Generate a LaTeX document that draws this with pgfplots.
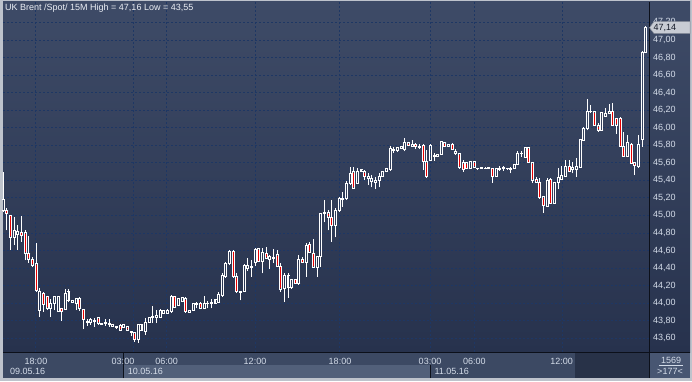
\documentclass[border=0pt]{standalone}
\usepackage{pgfplots}
\pgfplotsset{compat=1.18}
\usepackage{pgfplotstable}
\usepackage{fontspec}
\setmainfont{Liberation Sans}
\definecolor{bgtop}{RGB}{62,75,103}
\definecolor{bgbot}{RGB}{39,50,77}
\definecolor{gridc}{RGB}{30,55,100}
\definecolor{lbl}{RGB}{212,220,233}
\definecolor{panel}{RGB}{60,73,99}
\definecolor{panellight}{RGB}{82,96,122}
\definecolor{paneldark}{RGB}{40,50,72}
\definecolor{cornerbox}{RGB}{72,86,114}
\definecolor{framec}{RGB}{190,195,204}
\definecolor{sepc}{RGB}{12,16,26}
\definecolor{candred}{RGB}{230,0,0}
\definecolor{tagc}{RGB}{200,204,212}

\pgfplotstableread{
i o h l c
0 45.06 45.50 45.04 45.18
1 45.06 45.08 44.83 45.02
2 45.00 45.00 44.61 44.75
3 44.75 44.98 44.66 44.83
4 44.78 44.89 44.61 44.82
5 44.81 44.99 44.70 44.77
6 44.80 44.83 44.49 44.57
7 44.57 44.77 44.46 44.50
8 44.50 44.53 44.41 44.43
9 44.45 44.69 44.13 44.14
10 43.91 44.17 43.84 44.13
11 44.11 44.13 43.90 43.98
12 44.08 44.08 43.92 43.94
13 43.94 44.05 43.84 44.00
14 44.00 44.08 43.92 44.07
15 43.90 44.07 43.90 44.07
16 43.94 43.94 43.80 43.90
17 43.93 44.16 43.93 44.11
18 44.13 44.16 44.01 44.03
19 44.01 44.03 44.01 44.03
20 43.99 44.06 43.92 44.05
21 44.05 44.07 43.91 43.94
22 43.93 43.93 43.70 43.81
23 43.78 43.82 43.74 43.79
24 43.78 43.83 43.75 43.81
25 43.80 43.83 43.73 43.79
26 43.83 43.84 43.75 43.77
27 43.75 43.77 43.75 43.77
28 43.77 43.82 43.74 43.78
29 43.75 43.82 43.73 43.77
30 43.75 43.75 43.73 43.73
31 43.73 43.74 43.71 43.72
32 43.74 43.76 43.68 43.69
33 43.72 43.75 43.72 43.75
34 43.73 43.73 43.68 43.69
35 43.68 43.68 43.62 43.66
36 43.66 43.66 43.56 43.58
37 43.58 43.76 43.55 43.75
38 43.75 43.75 43.69 43.69
39 43.68 43.83 43.64 43.78
40 43.78 43.84 43.78 43.84
41 43.83 43.97 43.77 43.85
42 43.84 43.92 43.77 43.86
43 43.84 43.93 43.84 43.92
44 43.88 43.92 43.88 43.92
45 43.88 43.93 43.88 43.92
46 43.90 44.09 43.89 44.08
47 44.08 44.08 43.95 43.95
48 43.97 44.05 43.97 44.05
49 44.02 44.06 44.02 44.06
50 44.05 44.07 43.89 43.90
51 43.89 43.91 43.89 43.91
52 43.92 44.00 43.91 43.99
53 43.98 44.01 43.94 44.00
54 44.00 44.01 43.93 43.94
55 43.94 44.08 43.94 43.99
56 43.99 44.02 43.94 44.00
57 44.00 44.05 43.94 44.01
58 43.99 44.04 43.99 44.04
59 44.01 44.13 44.01 44.10
60 44.09 44.34 44.07 44.31
61 44.30 44.47 44.29 44.45
62 44.45 44.61 44.43 44.59
63 44.59 44.60 44.29 44.30
64 44.30 44.34 44.12 44.13
65 44.12 44.13 44.03 44.13
66 44.13 44.44 44.13 44.43
67 44.39 44.51 44.37 44.43
68 44.40 44.49 44.30 44.42
69 44.46 44.63 44.42 44.61
70 44.62 44.63 44.47 44.47
71 44.47 44.63 44.34 44.58
72 44.57 44.64 44.51 44.51
73 44.50 44.55 44.39 44.53
74 44.51 44.62 44.46 44.52
75 44.55 44.61 44.42 44.42
76 44.42 44.46 44.13 44.16
77 44.17 44.34 44.01 44.32
78 44.32 44.34 44.06 44.18
79 44.18 44.27 44.16 44.27
80 44.27 44.27 44.22 44.22
81 44.22 44.55 44.21 44.50
82 44.50 44.53 44.46 44.46
83 44.46 44.69 44.30 44.66
84 44.67 44.70 44.58 44.58
85 44.57 44.73 44.41 44.41
86 44.41 44.53 44.30 44.53
87 44.53 45.03 44.41 45.02
88 45.02 45.18 44.92 45.03
89 45.03 45.06 44.83 44.98
90 44.98 45.17 44.70 44.88
91 44.88 45.08 44.75 45.05
92 45.05 45.21 45.04 45.19
93 45.18 45.27 45.10 45.19
94 45.19 45.39 45.18 45.36
95 45.36 45.55 45.35 45.48
96 45.50 45.55 45.31 45.31
97 45.36 45.54 45.36 45.50
98 45.50 45.52 45.50 45.52
99 45.50 45.52 45.40 45.44
100 45.44 45.48 45.35 45.42
101 45.39 45.46 45.32 45.42
102 45.40 45.44 45.30 45.38
103 45.40 45.48 45.32 45.44
104 45.44 45.51 45.44 45.50
105 45.50 45.53 45.50 45.53
106 45.52 45.79 45.51 45.76
107 45.75 45.78 45.71 45.74
108 45.74 45.78 45.72 45.77
109 45.78 45.79 45.76 45.76
110 45.75 45.88 45.73 45.83
111 45.83 45.83 45.80 45.80
112 45.78 45.86 45.78 45.81
113 45.81 45.83 45.76 45.78
114 45.78 45.81 45.76 45.77
115 45.80 45.81 45.52 45.61
116 45.61 45.75 45.43 45.44
117 45.63 45.81 45.63 45.80
118 45.68 45.71 45.62 45.67
119 45.67 45.69 45.67 45.69
120 45.69 45.85 45.69 45.84
121 45.83 45.84 45.78 45.78
122 45.78 45.81 45.78 45.81
123 45.81 45.83 45.75 45.75
124 45.73 45.76 45.69 45.71
125 45.70 45.71 45.53 45.55
126 45.60 45.63 45.50 45.52
127 45.60 45.60 45.53 45.53
128 45.53 45.61 45.53 45.61
129 45.61 45.61 45.55 45.55
130 45.535 45.54 45.52 45.53
131 45.53 45.55 45.53 45.55
132 45.54 45.55 45.53 45.54
133 45.53 45.55 45.53 45.55
134 45.54 45.54 45.37 45.44
135 45.44 45.53 45.44 45.53
136 45.52 45.56 45.51 45.54
137 45.55 45.56 45.51 45.53
138 45.53 45.54 45.52 45.53
139 45.53 45.55 45.48 45.52
140 45.53 45.58 45.53 45.58
141 45.58 45.73 45.58 45.71
142 45.70 45.73 45.67 45.71
143 45.66 45.78 45.66 45.77
144 45.77 45.77 45.60 45.60
145 45.60 45.60 45.37 45.40
146 45.41 45.44 45.38 45.38
147 45.38 45.43 45.19 45.20
148 45.21 45.21 45.03 45.11
149 45.10 45.43 45.10 45.40
150 45.41 45.43 45.13 45.13
151 45.13 45.37 45.13 45.37
152 45.37 45.54 45.30 45.43
153 45.41 45.56 45.41 45.46
154 45.44 45.63 45.44 45.56
155 45.56 45.63 45.50 45.50
156 45.52 45.61 45.48 45.55
157 45.52 45.65 45.44 45.56
158 45.55 45.86 45.55 45.86
159 45.85 46.01 45.85 45.99
160 45.99 46.33 45.97 46.18
161 46.18 46.26 46.17 46.18
162 46.18 46.19 46.02 46.02
163 46.02 46.05 45.95 45.97
164 45.97 46.17 45.97 46.17
165 46.13 46.22 46.13 46.16
166 46.16 46.27 46.16 46.19
167 46.19 46.28 46.02 46.02
168 46.11 46.11 45.93 46.03
169 46.11 46.12 45.78 45.78
170 45.78 45.95 45.67 45.67
171 45.67 45.92 45.67 45.83
172 45.81 45.83 45.59 45.59
173 45.60 45.60 45.46 45.57
174 45.56 45.92 45.54 45.81
175 45.86 46.87 45.78 46.86
176 46.86 47.16 46.86 47.14
}\candles

\begin{document}
\begin{tikzpicture}[x=1pt,y=1pt]
\useasboundingbox (0,0) rectangle (692,381);
\fill[framec] (0,0) rectangle (692,381);
\shade[top color=bgtop, bottom color=bgbot] (3,29) rectangle (690,379);
% bottom panel
\fill[panel] (3,3) rectangle (649,29);
\fill[panellight] (123,3) rectangle (430.5,16);
\fill[paneldark] (575,3) rectangle (649,28.5);
\fill[cornerbox] (649,3) rectangle (690,29);

\begin{axis}[
  at={(3pt,29pt)}, anchor=south west, scale only axis,
  width=646pt, height=350pt,
  xmin=-0.08, xmax=176.9, ymin=43.442, ymax=47.433,
  axis line style={draw=none},
  major tick length=0pt,
  xtick={8.9,35.6,44.8,69.0,92.2,117.1,129.0,153.1},
  xticklabels={},
  ytick={43.6,43.8,44,44.2,44.4,44.6,44.8,45,45.2,45.4,45.6,45.8,46,46.2,46.4,46.6,46.8,47,47.2},
  yticklabel pos=right,
  yticklabel style={anchor=west, inner sep=0pt, xshift=4pt, font=\fontsize{9}{10}\selectfont, text=lbl,
    /pgf/number format/.cd, fixed, fixed zerofill, precision=2, use comma, assume math mode=true},
  grid=major,
  major grid style={gridc, line width=0.8pt, dash pattern=on 2pt off 2pt},
]
% upper wicks
\addplot[draw=none, forget plot, error bars/.cd, y dir=plus, y explicit, error mark=none,
  error bar style={draw=white, solid, line width=1pt}]
  table[x=i, y expr={max(\thisrow{o},\thisrow{c})}, y error plus expr={\thisrow{h}-max(\thisrow{o},\thisrow{c})}] {\candles};
% lower wicks
\addplot[draw=none, forget plot, error bars/.cd, y dir=plus, y explicit, error mark=none,
  error bar style={draw=white, solid, line width=1pt}]
  table[x=i, y=l, y error plus expr={min(\thisrow{o},\thisrow{c})-\thisrow{l}}] {\candles};
% red interiors
\addplot[draw=none, forget plot, error bars/.cd, y dir=plus, y explicit, error mark=none,
  error bar style={draw=candred, solid, line width=1.3pt}]
  table[x=i, y expr={\thisrow{c}+0.0114}, y error plus expr={(\thisrow{o}>\thisrow{c})*max(\thisrow{o}-\thisrow{c}-0.0228,0)}] {\candles};
% body sides
\addplot[draw=none, forget plot, error bars/.cd, y dir=plus, y explicit, error mark=none,
  error bar style={draw=white, solid, line width=1pt}]
  table[x expr={\thisrow{i}-0.27}, y expr={min(\thisrow{o},\thisrow{c})}, y error plus expr={abs(\thisrow{o}-\thisrow{c})}] {\candles};
\addplot[draw=none, forget plot, error bars/.cd, y dir=plus, y explicit, error mark=none,
  error bar style={draw=white, solid, line width=1pt}]
  table[x expr={\thisrow{i}+0.27}, y expr={min(\thisrow{o},\thisrow{c})}, y error plus expr={abs(\thisrow{o}-\thisrow{c})}] {\candles};
% caps
\addplot[only marks, forget plot, mark=-, mark size=1.5pt, mark options={draw=white, line width=1pt, solid}]
  table[x=i, y=o] {\candles};
\addplot[only marks, forget plot, mark=-, mark size=1.5pt, mark options={draw=white, line width=1pt, solid}]
  table[x=i, y=c] {\candles};
\end{axis}

% separators
\draw[sepc, line width=1pt] (649,3) -- (649,379);
\draw[sepc, line width=1pt] (3,29) -- (690,29);
\draw[sepc, line width=0.8pt] (123,3) -- (123,29);
\draw[sepc, line width=0.6pt] (430.5,3) -- (430.5,16);

% title
\node[anchor=west, inner sep=0pt, text={rgb,255:red,236;green,239;blue,245}, font=\fontsize{9}{10}\selectfont] at (5,373) {UK Brent /Spot/ 15M High = 47,16 Low = 43,55};

% time labels
\begin{scope}[every node/.style={inner sep=0pt, text=lbl, font=\fontsize{9}{10}\selectfont}]
\node at (36,20) {18:00};
\node at (123,20) {03:00};
\node at (166.7,20) {06:00};
\node at (255,20) {12:00};
\node at (340,20) {18:00};
\node at (430,20) {03:00};
\node at (474.3,20) {06:00};
\node at (561.7,20) {12:00};
\node[anchor=west] at (10,9.5) {09.05.16};
\node[anchor=west] at (127.7,9.5) {10.05.16};
\node[anchor=west] at (434.3,9.5) {11.05.16};
\node at (671,21) {1569};
\node at (670,9.3) {>177<};
\end{scope}
\draw[lbl, line width=0.6pt] (659,15.3) -- (683,15.3);

% price tag
\fill[tagc, draw={rgb,255:red,140;green,146;blue,158}, line width=0.5pt] (649.5,353.3) -- (654,359.3) -- (690,359.3) -- (690,347.5) -- (654,347.5) -- cycle;
\node[anchor=west, inner sep=0pt, text={rgb,255:red,20;green,26;blue,40}, font=\fontsize{9}{10}\selectfont] at (653.5,353.3) {47,14};
\end{tikzpicture}
\end{document}
